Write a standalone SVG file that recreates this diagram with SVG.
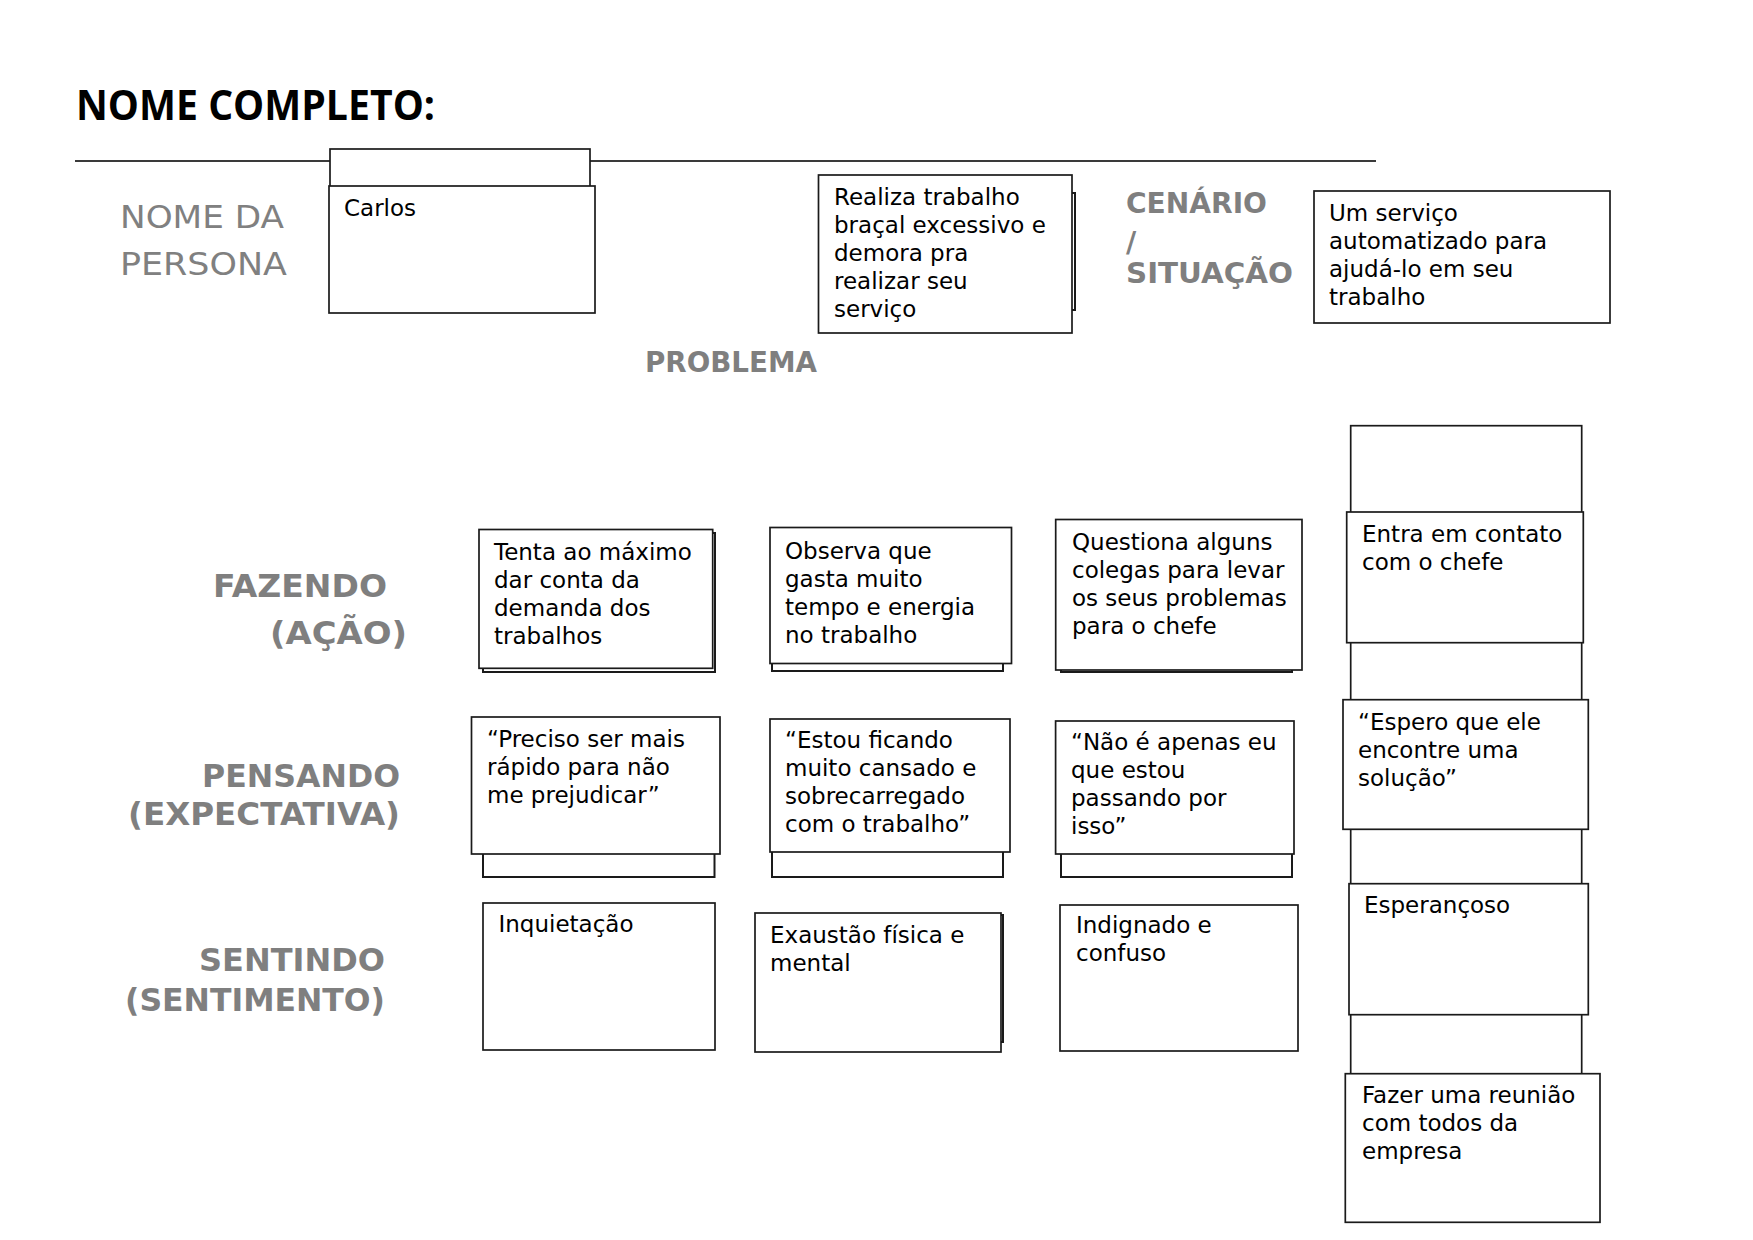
<svg xmlns="http://www.w3.org/2000/svg" width="1753" height="1240" viewBox="0 0 1753 1240">
<style>
.box{fill:#fff;stroke:#1a1a1a;stroke-width:1.7}
.sh{fill:#fff;stroke:#1a1a1a;stroke-width:2}
.t{font-family:"DejaVu Sans",Verdana,sans-serif;font-size:23px;fill:#000}
.lb{font-family:"DejaVu Sans",Verdana,sans-serif;font-weight:bold;font-size:32px;fill:#7f7f7f}
.lb2{font-family:"DejaVu Sans",Verdana,sans-serif;font-weight:bold;font-size:28px;fill:#7f7f7f}
.ln{font-family:"DejaVu Sans",Verdana,sans-serif;font-size:32px;fill:#808080}
</style>
<rect width="1753" height="1240" fill="#fff"/>

<g id="header">
<text x="76" y="120" font-family="'Open Sans','Noto Sans',sans-serif" font-weight="bold" font-size="42" textLength="359" lengthAdjust="spacingAndGlyphs">NOME COMPLETO:</text>
<line x1="75" y1="161" x2="1376" y2="161" stroke="#3a3a3a" stroke-width="2"/>
</g>

<g id="labels">
<text class="ln" x="120" y="228" textLength="164" lengthAdjust="spacingAndGlyphs">NOME  DA</text>
<text class="ln" x="120" y="275" textLength="167" lengthAdjust="spacingAndGlyphs">PERSONA</text>
<text class="lb2" x="645" y="372" textLength="172" lengthAdjust="spacingAndGlyphs">PROBLEMA</text>
<text class="lb2" x="1126" y="213" textLength="141" lengthAdjust="spacingAndGlyphs">CENÁRIO</text>
<text class="lb2" x="1126" y="252" font-size="33">/</text>
<text class="lb2" x="1126" y="283" textLength="167" lengthAdjust="spacingAndGlyphs">SITUAÇÃO</text>
<text class="lb" x="213" y="597" textLength="174" lengthAdjust="spacingAndGlyphs">FAZENDO</text>
<text class="lb" x="270" y="644" textLength="137" lengthAdjust="spacingAndGlyphs">(AÇÃO)</text>
<text class="lb" x="202" y="787" textLength="198" lengthAdjust="spacingAndGlyphs">PENSANDO</text>
<text class="lb" x="128" y="825" textLength="272" lengthAdjust="spacingAndGlyphs">(EXPECTATIVA)</text>
<text class="lb" x="199" y="971" textLength="186" lengthAdjust="spacingAndGlyphs">SENTINDO</text>
<text class="lb" x="125" y="1011" textLength="260" lengthAdjust="spacingAndGlyphs">(SENTIMENTO)</text>
</g>

<g id="persona">
<rect class="box" x="330" y="149" width="260" height="60"/>
<rect class="box" x="329" y="186" width="266" height="127"/>
<text class="t" x="344" y="216">Carlos</text>
</g>

<g id="problema">
<rect class="sh" x="830" y="193" width="245" height="117"/>
<rect class="box" x="818.5" y="175" width="253.5" height="158"/>
<text class="t" x="834" y="205">Realiza trabalho</text>
<text class="t" x="834" y="233">braçal excessivo e</text>
<text class="t" x="834" y="261">demora pra</text>
<text class="t" x="834" y="289">realizar seu</text>
<text class="t" x="834" y="317">serviço</text>
</g>

<g id="cenario">
<rect class="box" x="1314" y="191" width="296" height="132"/>
<text class="t" x="1329" y="221">Um serviço</text>
<text class="t" x="1329" y="249">automatizado para</text>
<text class="t" x="1329" y="277">ajudá-lo em seu</text>
<text class="t" x="1329" y="305">trabalho</text>
</g>

<g id="coluna-direita-fundo">
<rect class="box" x="1350.7" y="425.7" width="231" height="780"/>
</g>

<g id="fazendo-1">
<rect class="sh" x="483" y="533" width="232" height="139"/>
<rect class="box" x="479" y="529.5" width="233.7" height="138.8"/>
<text class="t" x="494" y="560">Tenta ao máximo</text>
<text class="t" x="494" y="588">dar conta da</text>
<text class="t" x="494" y="616">demanda dos</text>
<text class="t" x="494" y="644">trabalhos</text>
</g>

<g id="fazendo-2">
<rect class="sh" x="772" y="540" width="231" height="131"/>
<rect class="box" x="770" y="527.5" width="241.5" height="136"/>
<text class="t" x="785" y="559">Observa que</text>
<text class="t" x="785" y="587">gasta muito</text>
<text class="t" x="785" y="615">tempo e energia</text>
<text class="t" x="785" y="643">no trabalho</text>
</g>

<g id="fazendo-3">
<rect class="sh" x="1061" y="530" width="231" height="142"/>
<rect class="box" x="1055.7" y="519.5" width="246.3" height="150.5"/>
<text class="t" x="1072" y="550">Questiona alguns</text>
<text class="t" x="1072" y="578">colegas para levar</text>
<text class="t" x="1072" y="606">os seus problemas</text>
<text class="t" x="1072" y="634">para o chefe</text>
</g>

<g id="fazendo-4">
<rect class="box" x="1346.7" y="512" width="236.6" height="130.7"/>
<text class="t" x="1362" y="542">Entra em contato</text>
<text class="t" x="1362" y="570">com o chefe</text>
</g>

<g id="pensando-1">
<rect class="sh" x="483" y="800" width="231.5" height="77"/>
<rect class="box" x="471.5" y="717" width="248.5" height="137"/>
<text class="t" x="487" y="747">“Preciso ser mais</text>
<text class="t" x="487" y="775">rápido para não</text>
<text class="t" x="487" y="803">me prejudicar”</text>
</g>

<g id="pensando-2">
<rect class="sh" x="772" y="800" width="231" height="77"/>
<rect class="box" x="770" y="719" width="240" height="133"/>
<text class="t" x="785" y="748">“Estou ficando</text>
<text class="t" x="785" y="776">muito cansado e</text>
<text class="t" x="785" y="804">sobrecarregado</text>
<text class="t" x="785" y="832">com o trabalho”</text>
</g>

<g id="pensando-3">
<rect class="sh" x="1061" y="800" width="231" height="77"/>
<rect class="box" x="1055.6" y="721" width="238.4" height="133"/>
<text class="t" x="1071" y="750">“Não é apenas eu</text>
<text class="t" x="1071" y="778">que estou</text>
<text class="t" x="1071" y="806">passando por</text>
<text class="t" x="1071" y="834">isso”</text>
</g>

<g id="pensando-4">
<rect class="box" x="1343" y="699.7" width="245.3" height="129.6"/>
<text class="t" x="1358" y="730">“Espero que ele</text>
<text class="t" x="1358" y="758">encontre uma</text>
<text class="t" x="1358" y="786">solução”</text>
</g>

<g id="sentindo-1">
<rect class="box" x="483" y="903" width="232" height="147"/>
<text class="t" x="498.5" y="932">Inquietação</text>
</g>

<g id="sentindo-2">
<rect class="sh" x="760" y="915" width="243" height="127"/>
<rect class="box" x="755" y="913" width="246" height="139"/>
<text class="t" x="770" y="943">Exaustão física e</text>
<text class="t" x="770" y="971">mental</text>
</g>

<g id="sentindo-3">
<rect class="box" x="1060" y="905" width="238" height="146"/>
<text class="t" x="1076" y="933">Indignado e</text>
<text class="t" x="1076" y="961">confuso</text>
</g>

<g id="sentindo-4">
<rect class="box" x="1349" y="883.7" width="239.3" height="131"/>
<text class="t" x="1364" y="913">Esperançoso</text>
</g>

<g id="oportunidade">
<rect class="box" x="1345.3" y="1073.7" width="254.7" height="148.6"/>
<text class="t" x="1362" y="1103">Fazer uma reunião</text>
<text class="t" x="1362" y="1131">com todos da</text>
<text class="t" x="1362" y="1159">empresa</text>
</g>

<g id="connectors"></g>
</svg>
